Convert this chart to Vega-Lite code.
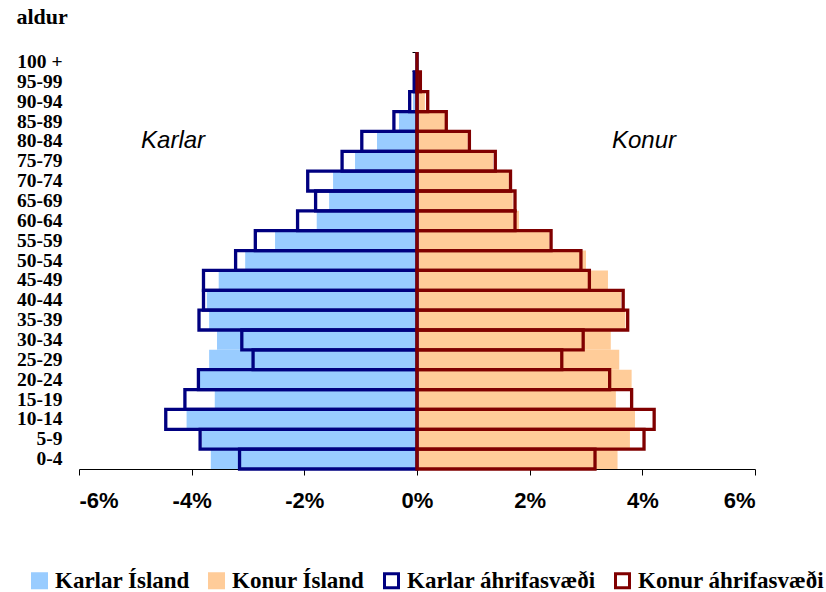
{
  "$schema": "https://vega.github.io/schema/vega-lite/v6.json",
  "width": 676,
  "height": 417,
  "autosize": {"type": "none"},
  "padding": {"left": 79, "top": 52, "right": 71, "bottom": 123},
  "background": "white",
  "config": {"view": {"stroke": null}},
  "datasets": {
    "pyramid": [
      {"age": "100 +", "series": "Karlar Ísland", "value": -0.01},
      {"age": "95-99", "series": "Karlar Ísland", "value": -0.03},
      {"age": "90-94", "series": "Karlar Ísland", "value": -0.07},
      {"age": "85-89", "series": "Karlar Ísland", "value": -0.32},
      {"age": "80-84", "series": "Karlar Ísland", "value": -0.71},
      {"age": "75-79", "series": "Karlar Ísland", "value": -1.10},
      {"age": "70-74", "series": "Karlar Ísland", "value": -1.49},
      {"age": "65-69", "series": "Karlar Ísland", "value": -1.56},
      {"age": "60-64", "series": "Karlar Ísland", "value": -1.78},
      {"age": "55-59", "series": "Karlar Ísland", "value": -2.52},
      {"age": "50-54", "series": "Karlar Ísland", "value": -3.05},
      {"age": "45-49", "series": "Karlar Ísland", "value": -3.52},
      {"age": "40-44", "series": "Karlar Ísland", "value": -3.73},
      {"age": "35-39", "series": "Karlar Ísland", "value": -3.69},
      {"age": "30-34", "series": "Karlar Ísland", "value": -3.55},
      {"age": "25-29", "series": "Karlar Ísland", "value": -3.69},
      {"age": "20-24", "series": "Karlar Ísland", "value": -3.87},
      {"age": "15-19", "series": "Karlar Ísland", "value": -3.59},
      {"age": "10-14", "series": "Karlar Ísland", "value": -4.09},
      {"age": "5-9", "series": "Karlar Ísland", "value": -3.82},
      {"age": "0-4", "series": "Karlar Ísland", "value": -3.66},
      {"age": "100 +", "series": "Konur Ísland", "value": 0.02},
      {"age": "95-99", "series": "Konur Ísland", "value": 0.04},
      {"age": "90-94", "series": "Konur Ísland", "value": 0.14},
      {"age": "85-89", "series": "Konur Ísland", "value": 0.50},
      {"age": "80-84", "series": "Konur Ísland", "value": 0.90},
      {"age": "75-79", "series": "Konur Ísland", "value": 1.35},
      {"age": "70-74", "series": "Konur Ísland", "value": 1.63},
      {"age": "65-69", "series": "Konur Ísland", "value": 1.70},
      {"age": "60-64", "series": "Konur Ísland", "value": 1.81},
      {"age": "55-59", "series": "Konur Ísland", "value": 2.35},
      {"age": "50-54", "series": "Konur Ísland", "value": 3.00},
      {"age": "45-49", "series": "Konur Ísland", "value": 3.39},
      {"age": "40-44", "series": "Konur Ísland", "value": 3.62},
      {"age": "35-39", "series": "Konur Ísland", "value": 3.70},
      {"age": "30-34", "series": "Konur Ísland", "value": 3.44},
      {"age": "25-29", "series": "Konur Ísland", "value": 3.59},
      {"age": "20-24", "series": "Konur Ísland", "value": 3.81},
      {"age": "15-19", "series": "Konur Ísland", "value": 3.53},
      {"age": "10-14", "series": "Konur Ísland", "value": 3.87},
      {"age": "5-9", "series": "Konur Ísland", "value": 3.78},
      {"age": "0-4", "series": "Konur Ísland", "value": 3.56},
      {"age": "100 +", "series": "Karlar áhrifasvæði", "value": 0},
      {"age": "95-99", "series": "Karlar áhrifasvæði", "value": -0.05},
      {"age": "90-94", "series": "Karlar áhrifasvæði", "value": -0.13},
      {"age": "85-89", "series": "Karlar áhrifasvæði", "value": -0.41},
      {"age": "80-84", "series": "Karlar áhrifasvæði", "value": -0.98},
      {"age": "75-79", "series": "Karlar áhrifasvæði", "value": -1.33},
      {"age": "70-74", "series": "Karlar áhrifasvæði", "value": -1.94},
      {"age": "65-69", "series": "Karlar áhrifasvæði", "value": -1.80},
      {"age": "60-64", "series": "Karlar áhrifasvæði", "value": -2.12},
      {"age": "55-59", "series": "Karlar áhrifasvæði", "value": -2.87},
      {"age": "50-54", "series": "Karlar áhrifasvæði", "value": -3.22},
      {"age": "45-49", "series": "Karlar áhrifasvæði", "value": -3.79},
      {"age": "40-44", "series": "Karlar áhrifasvæði", "value": -3.79},
      {"age": "35-39", "series": "Karlar áhrifasvæði", "value": -3.87},
      {"age": "30-34", "series": "Karlar áhrifasvæði", "value": -3.11},
      {"age": "25-29", "series": "Karlar áhrifasvæði", "value": -2.91},
      {"age": "20-24", "series": "Karlar áhrifasvæði", "value": -3.88},
      {"age": "15-19", "series": "Karlar áhrifasvæði", "value": -4.12},
      {"age": "10-14", "series": "Karlar áhrifasvæði", "value": -4.46},
      {"age": "5-9", "series": "Karlar áhrifasvæði", "value": -3.85},
      {"age": "0-4", "series": "Karlar áhrifasvæði", "value": -3.15},
      {"age": "100 +", "series": "Konur áhrifasvæði", "value": 0},
      {"age": "95-99", "series": "Konur áhrifasvæði", "value": 0.06},
      {"age": "90-94", "series": "Konur áhrifasvæði", "value": 0.19},
      {"age": "85-89", "series": "Konur áhrifasvæði", "value": 0.52},
      {"age": "80-84", "series": "Konur áhrifasvæði", "value": 0.93},
      {"age": "75-79", "series": "Konur áhrifasvæði", "value": 1.39},
      {"age": "70-74", "series": "Konur áhrifasvæði", "value": 1.66},
      {"age": "65-69", "series": "Konur áhrifasvæði", "value": 1.74},
      {"age": "60-64", "series": "Konur áhrifasvæði", "value": 1.74},
      {"age": "55-59", "series": "Konur áhrifasvæði", "value": 2.38},
      {"age": "50-54", "series": "Konur áhrifasvæði", "value": 2.91},
      {"age": "45-49", "series": "Konur áhrifasvæði", "value": 3.06},
      {"age": "40-44", "series": "Konur áhrifasvæði", "value": 3.66},
      {"age": "35-39", "series": "Konur áhrifasvæði", "value": 3.74},
      {"age": "30-34", "series": "Konur áhrifasvæði", "value": 2.95},
      {"age": "25-29", "series": "Konur áhrifasvæði", "value": 2.57},
      {"age": "20-24", "series": "Konur áhrifasvæði", "value": 3.42},
      {"age": "15-19", "series": "Konur áhrifasvæði", "value": 3.81},
      {"age": "10-14", "series": "Konur áhrifasvæði", "value": 4.21},
      {"age": "5-9", "series": "Konur áhrifasvæði", "value": 4.03},
      {"age": "0-4", "series": "Konur áhrifasvæði", "value": 3.16}
    ],
    "notes": [
      {"text": "Karlar", "value": -4.33, "age": "80-84"},
      {"text": "Konur", "value": 4.03, "age": "80-84"}
    ]
  },
  "layer": [
    {
      "data": {"name": "pyramid"},
      "transform": [{"filter": "datum.series == 'Karlar Ísland' || datum.series == 'Konur Ísland'"}],
      "mark": {"type": "bar", "strokeWidth": 0},
      "encoding": {
        "y": {
          "field": "age", "type": "nominal",
          "scale": {"domain": ["100 +", "95-99", "90-94", "85-89", "80-84", "75-79", "70-74", "65-69", "60-64", "55-59", "50-54", "45-49", "40-44", "35-39", "30-34", "25-29", "20-24", "15-19", "10-14", "5-9", "0-4"], "paddingInner": 0, "paddingOuter": 0},
          "axis": {"orient": "left", "title": "aldur", "titleAngle": 0, "titleAlign": "left", "titleBaseline": "alphabetic", "titleX": -63, "titleY": -29, "titleFont": "Liberation Serif", "titleFontSize": 22, "titleFontWeight": "bold", "titleColor": "black", "labelFont": "Liberation Serif", "labelFontSize": 19.5, "labelFontWeight": "bold", "labelColor": "black", "ticks": false, "tickSize": 0, "domain": false, "labelPadding": 17}
        },
        "x": {
          "field": "value", "type": "quantitative",
          "scale": {"domain": [-6, 6], "nice": false, "zero": false},
          "axis": {"values": [-6, -4, -2, 0, 2, 4, 6], "labelExpr": "datum.value + '%'", "title": null, "grid": false, "domainColor": "black", "tickColor": "black", "tickSize": 6, "labelFont": "Liberation Sans", "labelFontSize": 22, "labelFontWeight": "bold", "labelColor": "black", "labelPadding": 15}
        },
        "fill": {
          "field": "series", "type": "nominal",
          "scale": {"domain": ["Karlar Ísland", "Konur Ísland", "Karlar áhrifasvæði", "Konur áhrifasvæði"], "range": ["#99ccff", "#ffcc99", "transparent", "transparent"]},
          "legend": {"orient": "none", "legendX": -51, "legendY": 517, "direction": "horizontal", "title": null, "symbolType": "square", "symbolSize": 196, "symbolStrokeWidth": 3, "labelFont": "Liberation Serif", "labelFontSize": 23, "labelFontWeight": "bold", "labelColor": "black", "labelOffset": 4, "columnPadding": 13, "padding": 0, "labelLimit": 400}
        },
        "stroke": {
          "field": "series", "type": "nominal",
          "scale": {"domain": ["Karlar Ísland", "Konur Ísland", "Karlar áhrifasvæði", "Konur áhrifasvæði"], "range": ["#99ccff", "#ffcc99", "#000080", "#800000"]},
          "legend": {"orient": "none", "legendX": -51, "legendY": 517, "direction": "horizontal", "title": null, "symbolType": "square", "symbolSize": 196, "symbolStrokeWidth": 3, "labelFont": "Liberation Serif", "labelFontSize": 23, "labelFontWeight": "bold", "labelColor": "black", "labelOffset": 4, "columnPadding": 13, "padding": 0, "labelLimit": 400}
        }
      }
    },
    {
      "data": {"name": "pyramid"},
      "transform": [{"filter": "datum.series == 'Karlar áhrifasvæði' || datum.series == 'Konur áhrifasvæði'"}],
      "mark": {"type": "bar", "strokeWidth": 3.3},
      "encoding": {
        "y": {
          "field": "age", "type": "nominal",
          "axis": {"orient": "left", "offset": -338, "title": null, "labels": false, "ticks": true, "tickSize": 5, "tickColor": "black", "domain": true, "domainColor": "black", "bandPosition": 0, "grid": false}
        },
        "x": {"field": "value", "type": "quantitative"},
        "fill": {"field": "series", "type": "nominal"},
        "stroke": {"field": "series", "type": "nominal"}
      }
    },
    {
      "data": {"name": "notes"},
      "mark": {"type": "text", "font": "Liberation Sans", "fontSize": 24, "fontStyle": "italic", "color": "black", "align": "center", "baseline": "middle"},
      "encoding": {
        "y": {"field": "age", "type": "nominal", "axis": null},
        "x": {"field": "value", "type": "quantitative"},
        "text": {"field": "text"}
      }
    }
  ],
  "resolve": {"axis": {"y": "independent"}}
}
